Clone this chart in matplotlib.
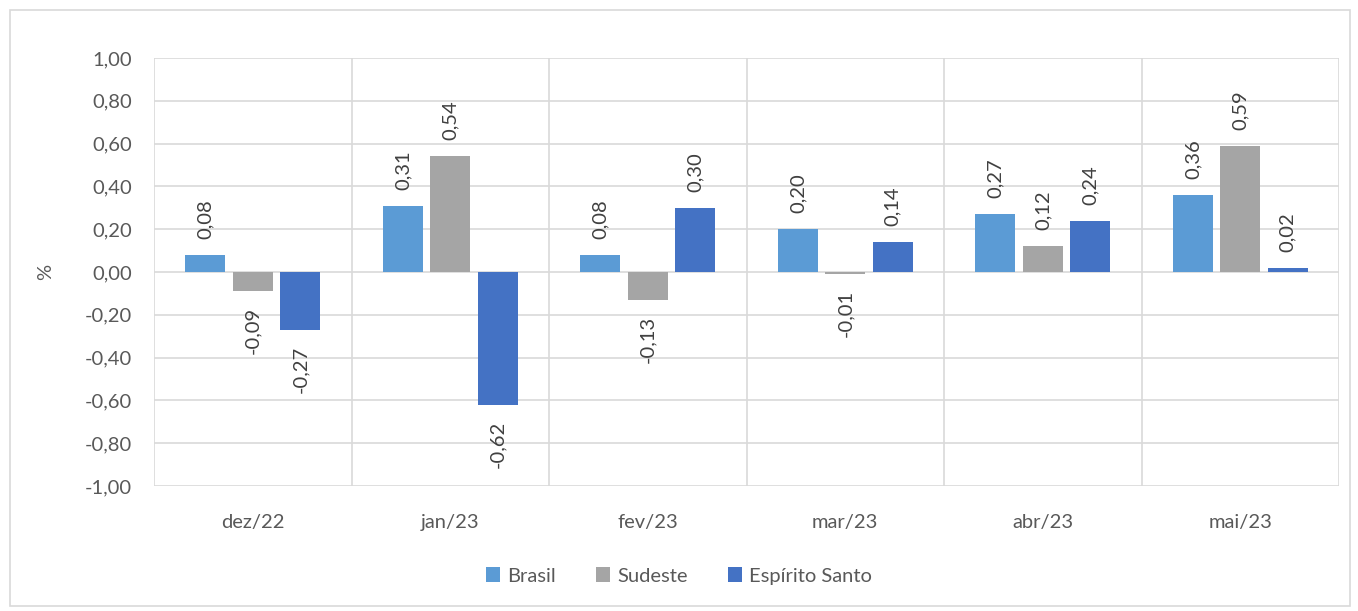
import numpy as np
import matplotlib.pyplot as plt
from matplotlib.patches import Rectangle

# dados (% variação mensal)
meses = ["dez/22", "jan/23", "fev/23", "mar/23", "abr/23", "mai/23"]
brasil = [0.08, 0.31, 0.08, 0.20, 0.27, 0.36]
sudeste = [-0.09, 0.54, -0.13, -0.01, 0.12, 0.59]
espirito_santo = [-0.27, -0.62, 0.30, 0.14, 0.24, 0.02]
yticks = [-1.0, -0.8, -0.6, -0.4, -0.2, 0.0, 0.2, 0.4, 0.6, 0.8, 1.0]

series = [
    ("Brasil", brasil, "#5B9BD5"),
    ("Sudeste", sudeste, "#A5A5A5"),
    ("Espírito Santo", espirito_santo, "#4472C4"),
]

plt.rcParams["font.family"] = ["Lato", "DejaVu Sans"]
TXT = "#595959"
GRID = "#D9D9D9"
FS = 14.5

fig = plt.figure(figsize=(13.58, 6.11), dpi=100)
ax = fig.add_axes([154 / 1358, 1 - 486 / 611, (1339 - 154) / 1358, (486 - 58) / 611])

x = np.arange(len(meses))
w = 0.203
step = 0.24
for i, (nome, vals, cor) in enumerate(series):
    pos = x + (i - 1) * step
    ax.bar(pos, vals, width=w, color=cor, label=nome, zorder=3)
    for xp, v in zip(pos, vals):
        lbl = f"{v:.2f}".replace(".", ",")
        off = 0.075
        if v >= 0:
            ax.text(xp, v + off, lbl, rotation=90, ha="center", va="bottom",
                    fontsize=FS, color="#404040")
        else:
            ax.text(xp, v - off, lbl, rotation=90, ha="center", va="top",
                    fontsize=FS, color="#404040")

ax.set_xlim(-0.5, len(meses) - 0.5)
ax.set_ylim(-1.0, 1.0)
ax.set_yticks(yticks)
ax.set_yticklabels([f"{t:.2f}".replace(".", ",") for t in yticks])
ax.set_xticks(x)
ax.set_xticklabels(meses)

# grade horizontal e divisórias verticais entre categorias
ax.grid(axis="y", color=GRID, linewidth=1.2, zorder=0)
for b in np.arange(-0.5, len(meses), 1.0):
    ax.axvline(b, color=GRID, linewidth=1.2, zorder=0)

for s in ax.spines.values():
    s.set_visible(False)
ax.tick_params(axis="both", length=0, labelsize=FS, labelcolor=TXT)
ax.tick_params(axis="y", pad=16)
ax.tick_params(axis="x", pad=20)
ax.set_ylabel("%", fontsize=FS, color=TXT, labelpad=22)

leg = fig.legend(loc="center", bbox_to_anchor=(0.5, 1 - 576 / 611), ncol=3,
                 frameon=False, fontsize=FS, handlelength=0.7, handleheight=0.7,
                 columnspacing=2.0, handletextpad=0.35)
for t in leg.get_texts():
    t.set_color(TXT)

# moldura do gráfico
fig.patches.append(Rectangle((10 / 1358, 1 - 606 / 611), 1340 / 1358, 596 / 611,
                             transform=fig.transFigure, fill=False,
                             edgecolor=GRID, linewidth=1.2))

fig.savefig("out.png", dpi=100)
